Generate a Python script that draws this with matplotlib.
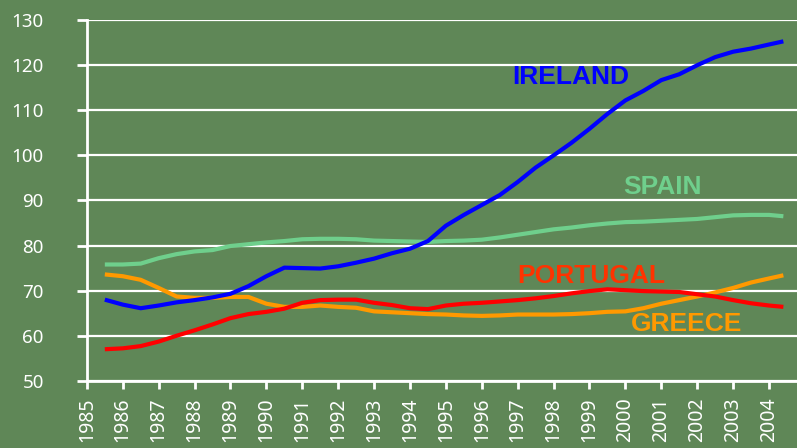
import matplotlib.pyplot as plt

# datos (indice, semestral)
anios = [1985.5, 1986.0, 1986.5, 1987.0, 1987.5, 1988.0, 1988.5, 1989.0, 1989.5, 1990.0,
         1990.5, 1991.0, 1991.5, 1992.0, 1992.5, 1993.0, 1993.5, 1994.0, 1994.5, 1995.0,
         1995.5, 1996.0, 1996.5, 1997.0, 1997.5, 1998.0, 1998.5, 1999.0, 1999.5, 2000.0,
         2000.5, 2001.0, 2001.5, 2002.0, 2002.5, 2003.0, 2003.5, 2004.0, 2004.4]

irlanda = [68.0, 66.9, 66.1, 66.7, 67.4, 67.9, 68.5, 69.3, 71.0, 73.2,
           75.1, 75.0, 74.9, 75.4, 76.2, 77.1, 78.3, 79.3, 81.0, 84.4,
           86.8, 89.0, 91.2, 94.1, 97.3, 100.0, 102.8, 105.9, 109.2, 112.2,
           114.3, 116.7, 118.0, 120.0, 121.8, 123.0, 123.7, 124.6, 125.3]

espana = [75.8, 75.8, 76.0, 77.2, 78.1, 78.7, 79.0, 79.9, 80.3, 80.7,
          81.0, 81.4, 81.5, 81.5, 81.4, 81.1, 81.0, 80.9, 80.8, 81.0,
          81.1, 81.3, 81.8, 82.4, 83.0, 83.6, 84.0, 84.5, 84.9, 85.2,
          85.3, 85.5, 85.7, 85.9, 86.3, 86.7, 86.8, 86.8, 86.5]

portugal = [57.0, 57.2, 57.7, 58.7, 60.0, 61.2, 62.5, 63.9, 64.8, 65.3,
            66.0, 67.3, 67.9, 68.0, 68.0, 67.3, 66.8, 66.1, 65.9, 66.7,
            67.1, 67.3, 67.6, 67.9, 68.3, 68.8, 69.4, 69.9, 70.3, 70.1,
            69.9, 69.8, 69.7, 69.2, 68.7, 67.9, 67.2, 66.7, 66.4]

grecia = [73.6, 73.2, 72.4, 70.6, 68.7, 68.4, 68.4, 68.6, 68.6, 67.1,
          66.4, 66.4, 66.7, 66.4, 66.2, 65.4, 65.2, 65.0, 64.8, 64.7,
          64.5, 64.4, 64.5, 64.7, 64.7, 64.7, 64.8, 65.0, 65.3, 65.4,
          66.1, 67.1, 67.9, 68.7, 69.6, 70.6, 71.8, 72.7, 73.4]

ticks_x = list(range(1985, 2005))
ticks_y = list(range(50, 131, 10))

verde = '#5f8757'

fig = plt.figure(figsize=(7.97, 4.48), dpi=100, facecolor=verde)
ax = fig.add_axes([0.109, 0.150, 0.891, 0.805], facecolor=verde)

# grilla horizontal
for v in ticks_y:
    ax.axhline(v, color='white', lw=1.6, zorder=1)

ax.plot(anios, espana, color='#6fcf8c', lw=3, zorder=3, solid_capstyle='butt')
ax.plot(anios, grecia, color='#ff9900', lw=3, zorder=3, solid_capstyle='butt')
ax.plot(anios, portugal, color='#ff0000', lw=3, zorder=4, solid_capstyle='butt')
ax.plot(anios, irlanda, color='#0000ff', lw=3, zorder=5, solid_capstyle='butt')

# etiquetas de las series
ax.text(1996.84, 117.4, 'IRELAND', color='#0000ff', fontsize=19, fontweight='bold',
        family='Liberation Sans', va='center', ha='left')
ax.text(1999.93, 92.9, 'SPAIN', color='#6fcf8c', fontsize=19, fontweight='bold',
        family='Liberation Sans', va='center', ha='left')
ax.text(1997.0, 73.2, 'PORTUGAL', color='#ff3300', fontsize=19, fontweight='bold',
        family='Liberation Sans', va='center', ha='left')
ax.text(2000.15, 62.6, 'GREECE', color='#ff9900', fontsize=19, fontweight='bold',
        family='Liberation Sans', va='center', ha='left')

ax.set_xlim(1985, 2004.78)
ax.set_ylim(50, 130)
ax.set_xticks(ticks_x)
ax.set_xticklabels([str(a) for a in ticks_x], rotation=90)
ax.set_yticks(ticks_y)

for s in ['top', 'right']:
    ax.spines[s].set_visible(False)
for s in ['left', 'bottom']:
    ax.spines[s].set_color('white')
    ax.spines[s].set_linewidth(2)

ax.tick_params(axis='y', colors='white', length=7, width=2, pad=24, labelsize=13.5,
               labelfontfamily='Noto Sans')
ax.tick_params(axis='x', colors='white', length=6, width=2, pad=6, labelsize=14,
               labelfontfamily='Noto Sans')

fig.savefig('out.png', dpi=100, facecolor=verde)
